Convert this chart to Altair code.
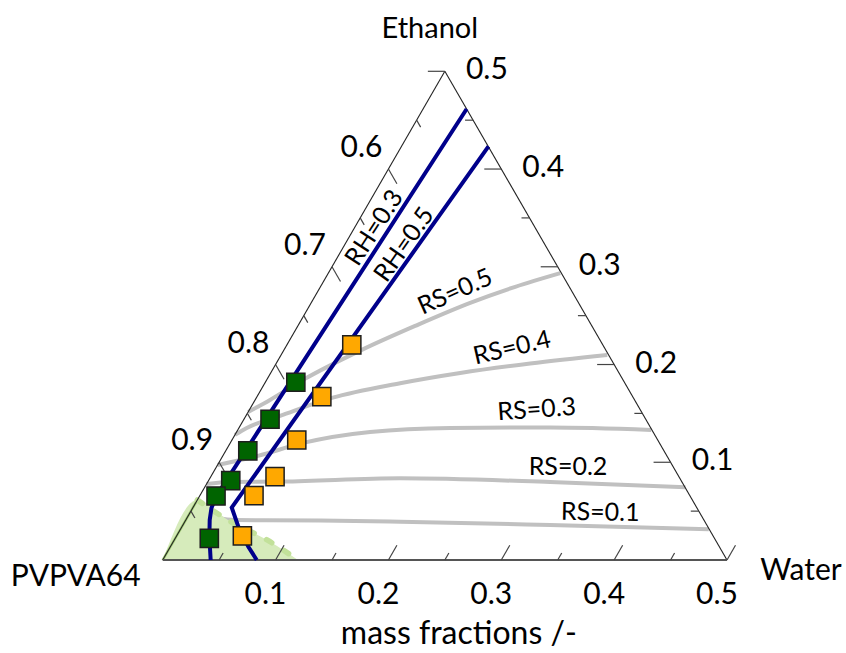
import math
import numpy as np
import pandas as pd
import altair as alt

# ---------------- data: mass fractions (water, ethanol); PVPVA64 = 1 - water - ethanol ----------------
rs_names = ["RS=0.1", "RS=0.2", "RS=0.3", "RS=0.4", "RS=0.5"]
rs_water = [
    [0.0, 0.0445, 0.1193, 0.1908, 0.3255, 0.4681],
    [0.0, 0.0198, 0.0666, 0.1686, 0.3035, 0.4259],
    [0.0, 0.0312, 0.0645, 0.1183, 0.1871, 0.2756, 0.3663],
    [0.0, 0.0069, 0.0303, 0.0669, 0.1199, 0.1679, 0.2251, 0.2890],
    [0.0, 0.0132, 0.0322, 0.0689, 0.1039, 0.1409, 0.1726, 0.2055],
]
rs_ethanol = [
    [0.0491, 0.0409, 0.0404, 0.0392, 0.0358, 0.0315],
    [0.0778, 0.0798, 0.0802, 0.0836, 0.0798, 0.0744],
    [0.0972, 0.1065, 0.1198, 0.1310, 0.1351, 0.1356, 0.1331],
    [0.1280, 0.1351, 0.1474, 0.1658, 0.1809, 0.1914, 0.2011, 0.2098],
    [0.1515, 0.1638, 0.1843, 0.2150, 0.2395, 0.2631, 0.2795, 0.2935],
]

rh_names = ["RH=0.3", "RH=0.5"]
rh_water = [
    [0.0386, 0.0148, 0.0166, 0.0212, 0.0296, 0.0425],
    [0.0771, 0.0343, 0.0500, 0.0691, 0.0833],
]
rh_ethanol = [
    [0.4614, 0.0655, 0.0532, 0.0409, 0.0235, 0.0],
    [0.4231, 0.0537, 0.0341, 0.0136, 0.0],
]

green_water = [0.0270, 0.0231, 0.0196, 0.0197, 0.0145, 0.0302]
green_ethanol = [0.1819, 0.1440, 0.1116, 0.0812, 0.0655, 0.0222]
orange_water = [0.0575, 0.0574, 0.0574, 0.0569, 0.0480, 0.0583]
orange_ethanol = [0.2201, 0.1672, 0.1228, 0.0853, 0.0658, 0.0246]

region_water = [0.0, 0.0374, 0.0858, 0.1199]
region_ethanol = [0.0614, 0.0409, 0.0187, 0.0]

water_labels = [0.1, 0.2, 0.3, 0.4, 0.5]
polymer_labels = [0.6, 0.7, 0.8, 0.9]
ethanol_labels = [0.1, 0.2, 0.3, 0.4, 0.5]
major_ticks = [0.1, 0.2, 0.3, 0.4, 0.5]
minor_ticks = [0.05, 0.15, 0.25, 0.35, 0.45]

# ---------------- layout ----------------
W, H = 846, 653
X0, Y0, K = 162.7, 560.0, 1128.6   # pixel of PVPVA64 corner, pixels per unit
S3 = math.sqrt(3) / 2
FONT = "Lato"


def tern(w, e):
    return w + e / 2.0, e * S3


xdom = [-X0 / K, (W - X0) / K]
ydom = [(Y0 - H) / K, Y0 / K]
xs = alt.Scale(domain=xdom, nice=False, zero=False)
ys = alt.Scale(domain=ydom, nice=False, zero=False)


def X(f="x"):
    return alt.X(f"{f}:Q", scale=xs, axis=None)


def Y(f="y"):
    return alt.Y(f"{f}:Q", scale=ys, axis=None)


# RS lines
rows = []
for name, ws, es in zip(rs_names, rs_water, rs_ethanol):
    for i, (w, e) in enumerate(zip(ws, es)):
        x, y = tern(w, e)
        rows.append(dict(s=name, i=i, x=x, y=y))
rs_df = pd.DataFrame(rows)
rs_layer = alt.Chart(rs_df).mark_line(color="#c0c0c0", strokeWidth=4, interpolate="monotone").encode(
    x=X(), y=Y(), detail="s:N", order="i:Q")

# green region
reg = [tern(0, 0)] + [tern(w, e) for w, e in zip(region_water, region_ethanol)]
reg_df = pd.DataFrame(dict(x=[p[0] for p in reg], y=[p[1] for p in reg], y0=0.0))
reg_layer = alt.Chart(reg_df).mark_area(color="#d6ebbb", opacity=1, interpolate="monotone").encode(
    x=X(), y=Y(), y2="y0:Q")
edge_green_df = pd.DataFrame(dict(x=[reg[0][0], reg[1][0]], y=[reg[0][1], reg[1][1]], i=[0, 1]))
edge_green = alt.Chart(edge_green_df).mark_line(color="#a3d076", strokeWidth=2.5).encode(
    x=X(), y=Y(), order="i:Q")
bnd_df = pd.DataFrame(dict(x=[p[0] for p in reg[1:]], y=[p[1] for p in reg[1:]], i=list(range(len(reg) - 1))))
bnd_layer = alt.Chart(bnd_df).mark_line(color="#c2e19a", strokeWidth=5.5, strokeDash=[6, 14],
                                        strokeCap="round", interpolate="monotone").encode(
    x=X(), y=Y(), order="i:Q")

# triangle edges
A, B, C = tern(0, 0), tern(0.5, 0), tern(0, 0.5)
edges_df = pd.DataFrame([
    dict(x=A[0], y=A[1], x2=C[0], y2=C[1], c="#222222", wdt=1.1),
    dict(x=C[0], y=C[1], x2=B[0], y2=B[1], c="#222222", wdt=1.1),
    dict(x=A[0], y=A[1], x2=B[0], y2=B[1], c="#555555", wdt=1.8),
])
edges_layer = alt.Chart(edges_df).mark_rule().encode(
    x=X(), y=Y(), x2="x2:Q", y2="y2:Q",
    color=alt.Color("c:N", scale=None), strokeWidth=alt.StrokeWidth("wdt:Q", scale=None))

# ticks
Ll, Ls = 17.0 / K, 8.0 / K
trows = []
for t in sorted(major_ticks + minor_ticks):
    L = Ll if t in major_ticks else Ls
    x, y = tern(t, 0)
    trows.append(dict(x=x, y=y, x2=x + 0.5 * L, y2=y + S3 * L))
    x, y = tern(0.5 - t, t)
    trows.append(dict(x=x, y=y, x2=x - L, y2=y))
    if t < 0.5:
        x, y = tern(0, t)
        trows.append(dict(x=x, y=y, x2=x + 0.5 * L, y2=y - S3 * L))
ticks_df = pd.DataFrame(trows)
ticks_layer = alt.Chart(ticks_df).mark_rule(color="#444444", strokeWidth=1.2).encode(
    x=X(), y=Y(), x2="x2:Q", y2="y2:Q")

# RH lines
rows = []
for name, ws, es in zip(rh_names, rh_water, rh_ethanol):
    for i, (w, e) in enumerate(zip(ws, es)):
        x, y = tern(w, e)
        rows.append(dict(s=name, i=i, x=x, y=y))
rh_df = pd.DataFrame(rows)
rh_layer = alt.Chart(rh_df).mark_line(color="#00008B", strokeWidth=4).encode(
    x=X(), y=Y(), detail="s:N", order="i:Q")

# squares
rows = []
for ser, ws, es in [("g", green_water, green_ethanol), ("o", orange_water, orange_ethanol)]:
    for w, e in zip(ws, es):
        x, y = tern(w, e)
        rows.append(dict(s=ser, x=x, y=y))
pts_df = pd.DataFrame(rows)
pts_layer = alt.Chart(pts_df).mark_point(shape="square", filled=True, size=330, opacity=1,
                                         stroke="#1e1e1e", strokeWidth=1.5).encode(
    x=X(), y=Y(),
    fill=alt.Fill("s:N", scale=alt.Scale(domain=["g", "o"], range=["#006400", "#FFA800"]), legend=None))

# tick labels
lab = []
for v in water_labels:
    x, y = tern(v, 0)
    lab.append(dict(x=x, y=y, t=f"{v:.1f}", dx=-10, dy=35))
for v in ethanol_labels:
    x, y = tern(0.5 - v, v)
    lab.append(dict(x=x, y=y, t=f"{v:.1f}", dx=42, dy=-1))
for v in polymer_labels:
    x, y = tern(0, 1 - v)
    lab.append(dict(x=x, y=y, t=f"{v:.1f}", dx=-27, dy=-21))
lab_df = pd.DataFrame(lab)
lab_layers = []
for (dx, dy), g in lab_df.groupby(["dx", "dy"]):
    lab_layers.append(alt.Chart(g).mark_text(font=FONT, fontSize=30, color="#000000", dx=int(dx), dy=int(dy),
                                             align="center", baseline="middle").encode(
        x=X(), y=Y(), text="t:N"))

# RS labels
rs_lab_x_px = [600, 568, 538, 516, 461.7]
rs_lab_dy = [-14, -16, -18, -18, -16]
rs_lab_ang = [1, 0, 356, 347, 336]
rows = []
for name, ws, es, px, dy, ang in zip(rs_names, rs_water, rs_ethanol, rs_lab_x_px, rs_lab_dy, rs_lab_ang):
    lx = [tern(w, e)[0] for w, e in zip(ws, es)]
    ly = [tern(w, e)[1] for w, e in zip(ws, es)]
    xx = (px - X0) / K
    rows.append(dict(x=xx, y=float(np.interp(xx, lx, ly)), t=name, dy=dy, ang=ang))
rsl_df = pd.DataFrame(rows)
rsl_layers = []
for dy, g in rsl_df.groupby("dy"):
    rsl_layers.append(alt.Chart(g).mark_text(font=FONT, fontSize=25, color="#000000", dy=int(dy),
                                             align="center", baseline="middle").encode(
        x=X(), y=Y(), text="t:N", angle=alt.Angle("ang:Q", scale=None)))

# RH labels (offsets in the rotated text frame)
rh_lab_e = [0.3395, 0.3216]
rh_lab_dx = [-8, -7]
rh_lab_dy = [-13, -12]
rh_lab_ang = [303, 305]
rhl_layers = []
for name, ws, es, e0, dx, dy, ang in zip(rh_names, rh_water, rh_ethanol, rh_lab_e, rh_lab_dx, rh_lab_dy, rh_lab_ang):
    w0 = float(np.interp(e0, es[::-1], ws[::-1]))
    x, y = tern(w0, e0)
    d = pd.DataFrame([dict(x=x, y=y, t=name, ang=ang)])
    rhl_layers.append(alt.Chart(d).mark_text(font=FONT, fontSize=25, color="#000000", dx=dx, dy=dy,
                                             align="center", baseline="middle").encode(
        x=X(), y=Y(), text="t:N", angle=alt.Angle("ang:Q", scale=None)))

# corner and axis titles
titles = [
    dict(x=A[0], y=A[1], t="PVPVA64", dx=-87, dy=17, fs=30),
    dict(x=B[0], y=B[1], t="Water", dx=74, dy=11, fs=30),
    dict(x=C[0], y=C[1], t="Ethanol", dx=-15, dy=-42, fs=29),
    dict(x=0.25, y=0.0, t="mass fractions /-", dx=14, dy=74, fs=32),
]
title_layers = []
for d in titles:
    g = pd.DataFrame([dict(x=d["x"], y=d["y"], t=d["t"])])
    title_layers.append(alt.Chart(g).mark_text(font=FONT, fontSize=d["fs"], color="#000000", dx=d["dx"],
                                               dy=d["dy"], align="center", baseline="middle").encode(
        x=X(), y=Y(), text="t:N"))

chart = alt.layer(
    rs_layer, reg_layer, edge_green, bnd_layer, edges_layer, ticks_layer, rh_layer, pts_layer,
    *lab_layers, *rsl_layers, *rhl_layers, *title_layers
).properties(
    width=W, height=H, autosize=alt.AutoSizeParams(type="none"), padding=0, background="#ffffff"
).configure_view(stroke=None)

chart.save("out.html", embed_options={"renderer": "svg", "actions": False})
